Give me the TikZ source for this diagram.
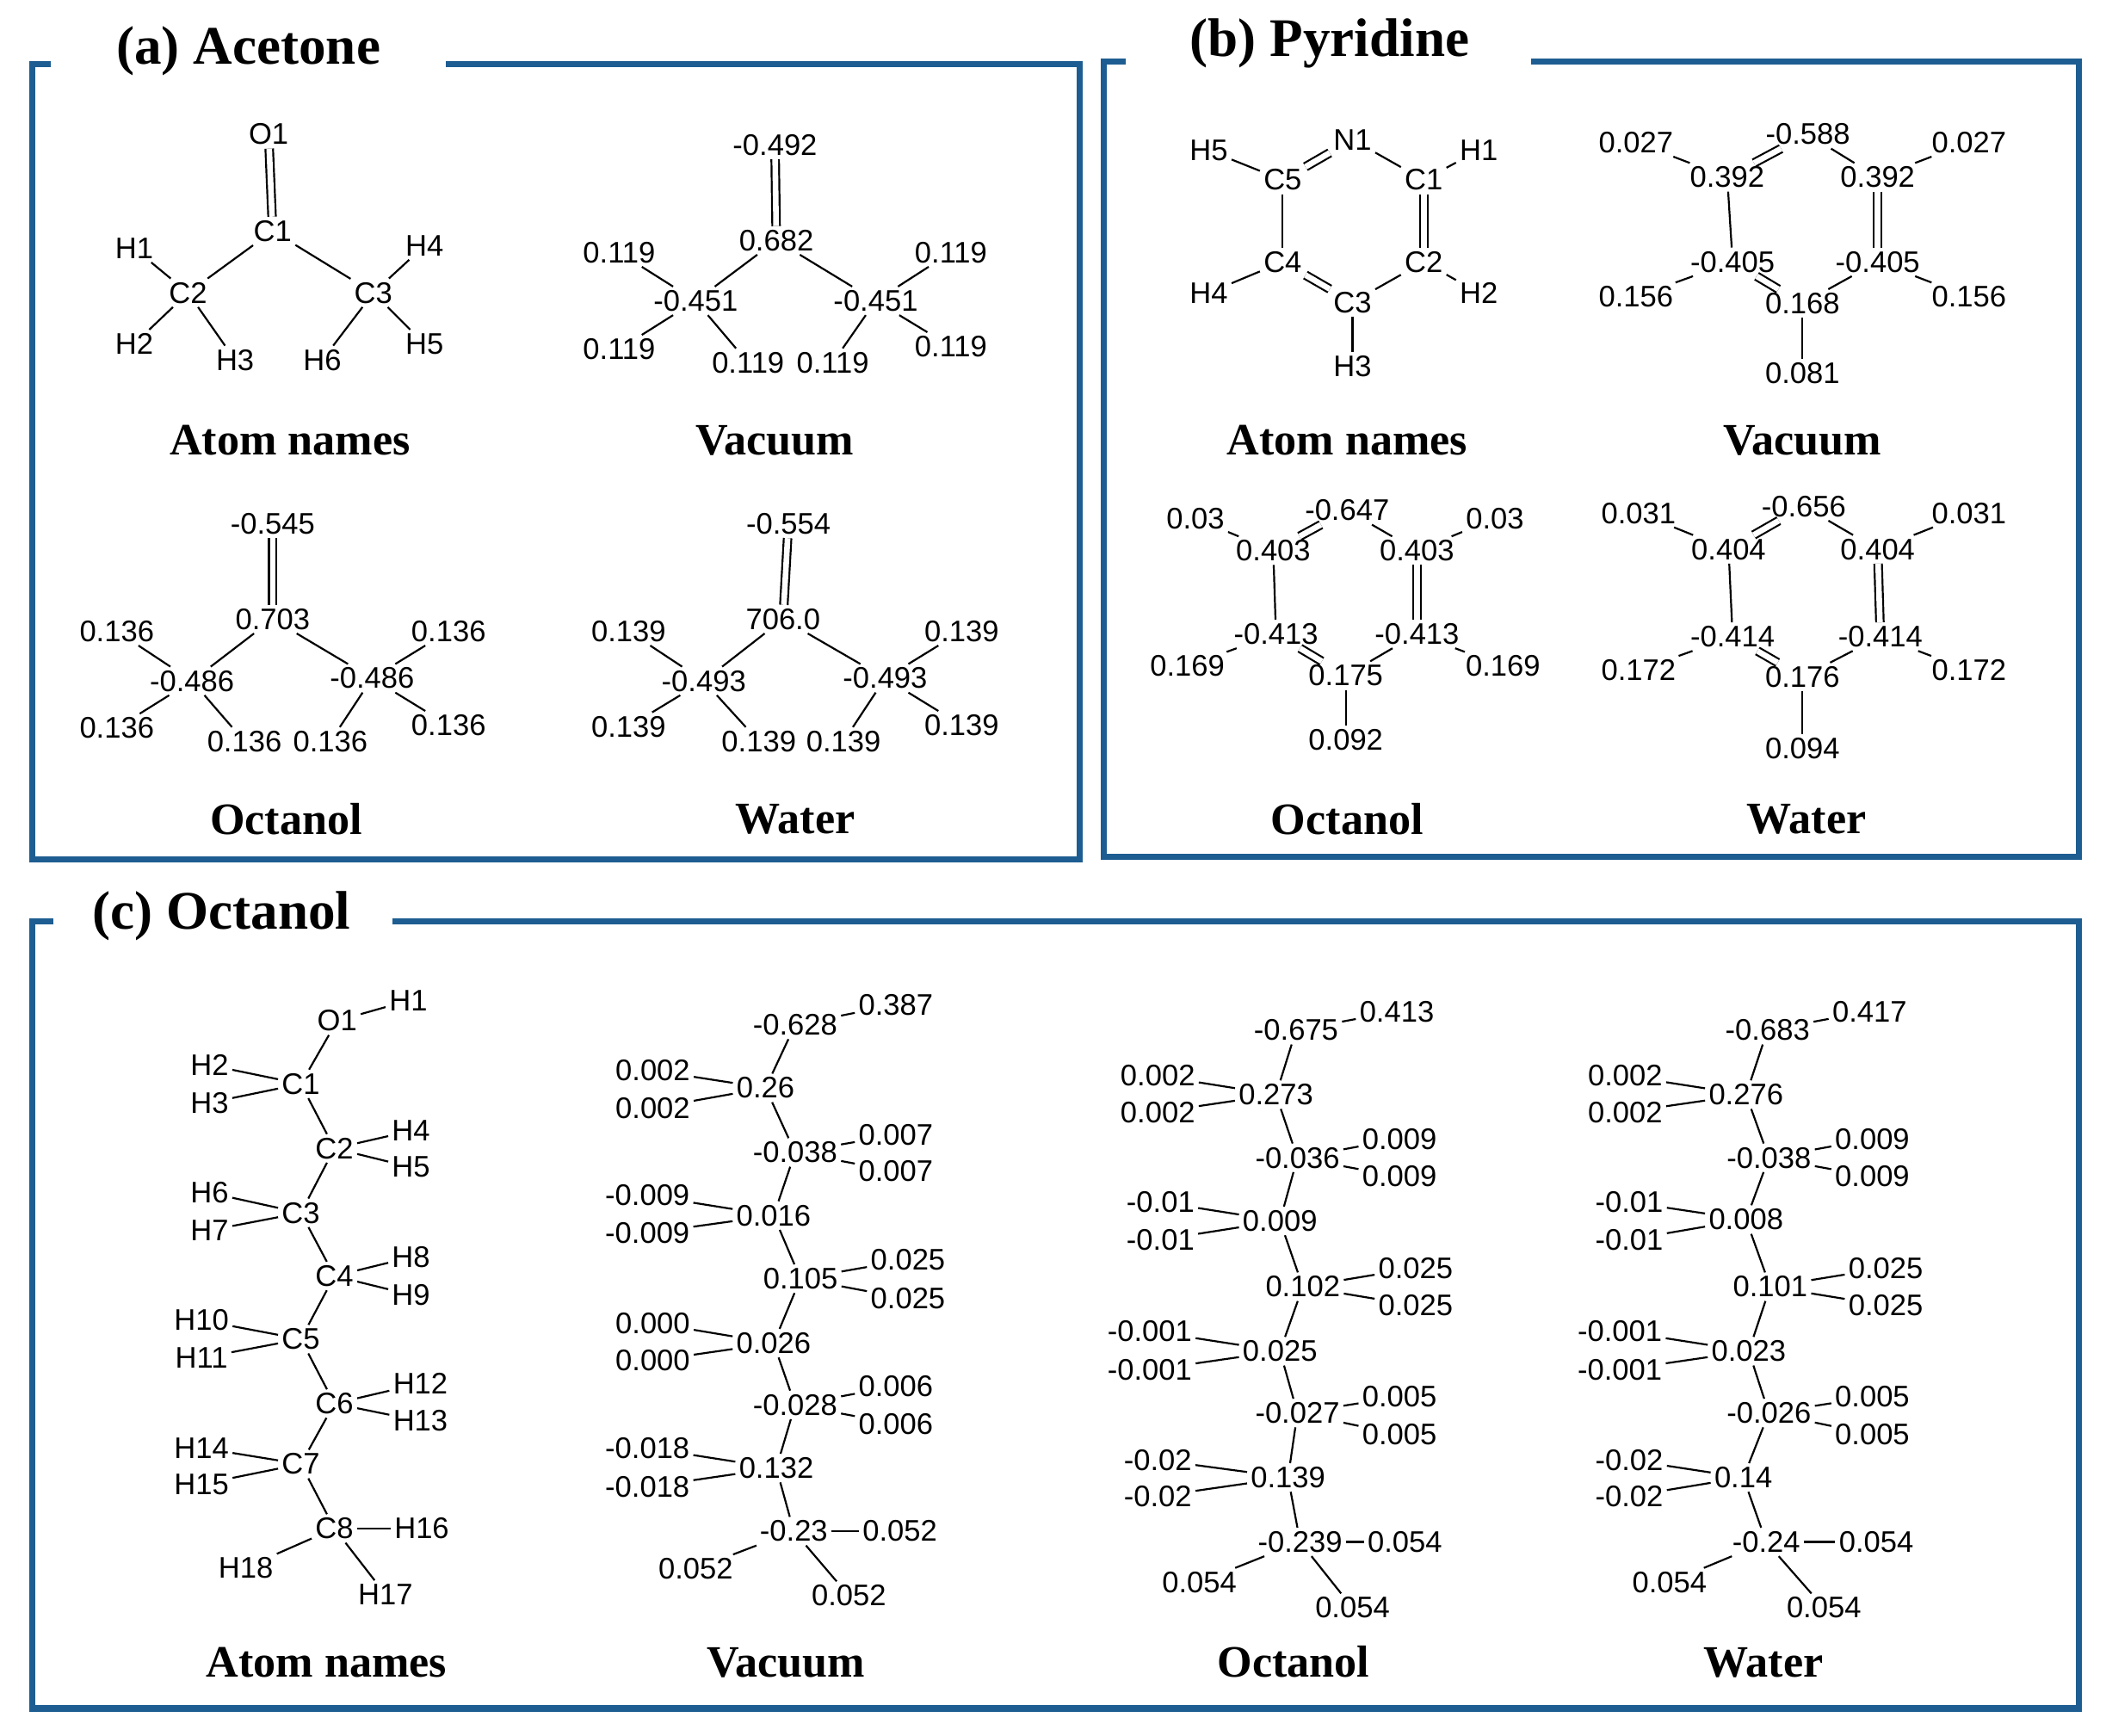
\documentclass[tikz,border=0pt]{standalone}
\usepackage{fontspec}
\setmainfont{Liberation Serif}
\newfontfamily\ar{Liberation Sans}
\definecolor{fr}{HTML}{1D5D91}
\tikzset{
 lab/.style={font=\ar\fontsize{6.3}{7}\selectfont,inner sep=0.6pt},
 bond/.style={line width=0.4pt,black},
 dbl/.style={bond,double,double distance=1.2pt},
 frame/.style={draw=fr,line width=1.3pt},
 ttl/.style={font=\bfseries\fontsize{11.5}{13}\selectfont},
 capt/.style={font=\bfseries\fontsize{9.5}{11}\selectfont}
}
\newcommand\Lb[3]{\node[lab] (#1) at (#2) {#3};}
\newcommand\acebonds[1]{\draw[dbl] (#1O)--(#1C1);
 \foreach \a/\b in {C1/C2,C1/C3,C2/H1,C2/H2,C2/H3,C3/H4,C3/H5,C3/H6}{\draw[bond] (#1\a)--(#1\b);}}
\newcommand\pyrbonds[1]{\draw[dbl] (#1N)--(#1C5); \draw[dbl] (#1C1)--(#1C2); \draw[dbl] (#1C3)--(#1C4);
 \foreach \a/\b in {N/C1,C2/C3,C4/C5,C1/H1,C2/H2,C3/H3,C4/H4,C5/H5}{\draw[bond] (#1\a)--(#1\b);}}
\newcommand\octbonds[1]{\foreach \a/\b in {O/H1,O/C1,C1/H2,C1/H3,C1/C2,C2/H4,C2/H5,C2/C3,C3/H6,C3/H7,C3/C4,C4/H8,C4/H9,C4/C5,C5/H10,C5/H11,C5/C6,C6/H12,C6/H13,C6/C7,C7/H14,C7/H15,C7/C8,C8/H16,C8/H17,C8/H18}{\draw[bond] (#1\a)--(#1\b);}}
\begin{document}
\begin{tikzpicture}[x=0.01cm,y=-0.01cm]
\useasboundingbox (0,0) rectangle (1568,1292);
% frames
\draw[frame] (38,48)--(24,48)--(24,640)--(804,640)--(804,48)--(332,48);
\draw[frame] (838,46)--(822,46)--(822,638)--(1548,638)--(1548,46)--(1140,46);
\draw[frame] (40,686)--(24,686)--(24,1272)--(1548,1272)--(1548,686)--(292,686);
\node[ttl] (ta) at (185,38) {(a) Acetone};
\node[ttl] (tb) at (990,32) {(b) Pyridine};
\node[ttl] (tc) at (165,682) {(c) Octanol};
% captions
\node[capt] (c1) at (216,328) {Atom names};
\node[capt] (c2) at (577,328) {Vacuum};
\node[capt] (c3) at (213,610) {Octanol};
\node[capt] (c4) at (592,610) {Water};
\node[capt] (c5) at (1003,328) {Atom names};
\node[capt] (c6) at (1342,328) {Vacuum};
\node[capt] (c7) at (1003,610) {Octanol};
\node[capt] (c8) at (1345,610) {Water};
\node[capt] (c9) at (243,1238) {Atom names};
\node[capt] (c10) at (585,1238) {Vacuum};
\node[capt] (c11) at (963,1237) {Octanol};
\node[capt] (c12) at (1313,1238) {Water};
% acetone names
\Lb{aaO}{200,100}{O1}\Lb{aaC1}{203,172}{C1}\Lb{aaC2}{140,218}{C2}\Lb{aaC3}{278,218}{C3}
\Lb{aaH1}{100,185}{H1}\Lb{aaH2}{100,256}{H2}\Lb{aaH3}{175,268}{H3}
\Lb{aaH4}{316,183}{H4}\Lb{aaH5}{316,256}{H5}\Lb{aaH6}{240,268}{H6}
\acebonds{aa}
% acetone vacuum
\Lb{avO}{577,108}{-0.492}\Lb{avC1}{578,179}{0.682}\Lb{avC2}{518,224}{-0.451}\Lb{avC3}{652,224}{-0.451}
\Lb{avH1}{461,188}{0.119}\Lb{avH2}{461,260}{0.119}\Lb{avH3}{557,270}{0.119}
\Lb{avH4}{708,188}{0.119}\Lb{avH5}{708,258}{0.119}\Lb{avH6}{620,270}{0.119}
\acebonds{av}
% acetone octanol
\Lb{aoO}{203,390}{-0.545}\Lb{aoC1}{203,461}{0.703}\Lb{aoC2}{143,507}{-0.486}\Lb{aoC3}{277,505}{-0.486}
\Lb{aoH1}{87,470}{0.136}\Lb{aoH2}{87,542}{0.136}\Lb{aoH3}{182,552}{0.136}
\Lb{aoH4}{334,470}{0.136}\Lb{aoH5}{334,540}{0.136}\Lb{aoH6}{246,552}{0.136}
\acebonds{ao}
% acetone water
\Lb{awO}{587,390}{-0.554}\Lb{awC1}{583,461}{706.0}\Lb{awC2}{524,507}{-0.493}\Lb{awC3}{659,505}{-0.493}
\Lb{awH1}{468,470}{0.139}\Lb{awH2}{468,541}{0.139}\Lb{awH3}{565,552}{0.139}
\Lb{awH4}{716,470}{0.139}\Lb{awH5}{716,540}{0.139}\Lb{awH6}{628,552}{0.139}
\acebonds{aw}
% pyridine names
\Lb{paN}{1007,104}{N1}\Lb{paC1}{1060,134}{C1}\Lb{paC2}{1060,195}{C2}\Lb{paC3}{1007,225}{C3}
\Lb{paC4}{955,195}{C4}\Lb{paC5}{955,134}{C5}\Lb{paH1}{1101,112}{H1}\Lb{paH2}{1101,218}{H2}
\Lb{paH3}{1007,273}{H3}\Lb{paH4}{900,218}{H4}\Lb{paH5}{900,112}{H5}
\pyrbonds{pa}
% pyridine vacuum
\Lb{pvN}{1346,100}{-0.588}\Lb{pvC1}{1398,132}{0.392}\Lb{pvC5}{1286,132}{0.392}
\Lb{pvC2}{1398,195}{-0.405}\Lb{pvC4}{1290,195}{-0.405}\Lb{pvC3}{1342,226}{0.168}
\Lb{pvH1}{1466,106}{0.027}\Lb{pvH5}{1218,106}{0.027}\Lb{pvH2}{1466,221}{0.156}
\Lb{pvH4}{1218,221}{0.156}\Lb{pvH3}{1342,278}{0.081}
\pyrbonds{pv}
% pyridine octanol
\Lb{poN}{1003,380}{-0.647}\Lb{poC5}{948,410}{0.403}\Lb{poC1}{1055,410}{0.403}
\Lb{poC4}{950,472}{-0.413}\Lb{poC2}{1055,472}{-0.413}\Lb{poC3}{1002,503}{0.175}
\Lb{poH5}{890,386}{0.03}\Lb{poH1}{1113,386}{0.03}\Lb{poH4}{884,496}{0.169}
\Lb{poH2}{1119,496}{0.169}\Lb{poH3}{1002,551}{0.092}
\pyrbonds{po}
% pyridine water
\Lb{pwN}{1343,377}{-0.656}\Lb{pwC5}{1287,409}{0.404}\Lb{pwC1}{1398,409}{0.404}
\Lb{pwC4}{1290,474}{-0.414}\Lb{pwC2}{1400,474}{-0.414}\Lb{pwC3}{1342,504}{0.176}
\Lb{pwH5}{1220,382}{0.031}\Lb{pwH1}{1466,382}{0.031}\Lb{pwH4}{1220,499}{0.172}
\Lb{pwH2}{1466,499}{0.172}\Lb{pwH3}{1342,557}{0.094}
\pyrbonds{pw}
% octanol names
\Lb{oaO}{251,760}{O1}\Lb{oaH1}{304,745}{H1}\Lb{oaC1}{224,807}{C1}\Lb{oaH2}{156,793}{H2}\Lb{oaH3}{156,821}{H3}
\Lb{oaC2}{249,855}{C2}\Lb{oaH4}{306,842}{H4}\Lb{oaH5}{306,869}{H5}
\Lb{oaC3}{224,903}{C3}\Lb{oaH6}{156,888}{H6}\Lb{oaH7}{156,916}{H7}
\Lb{oaC4}{249,950}{C4}\Lb{oaH8}{306,936}{H8}\Lb{oaH9}{306,964}{H9}
\Lb{oaC5}{224,997}{C5}\Lb{oaH10}{150,983}{H10}\Lb{oaH11}{150,1011}{H11}
\Lb{oaC6}{249,1045}{C6}\Lb{oaH12}{313,1030}{H12}\Lb{oaH13}{313,1058}{H13}
\Lb{oaC7}{224,1090}{C7}\Lb{oaH14}{150,1078}{H14}\Lb{oaH15}{150,1105}{H15}
\Lb{oaC8}{249,1138}{C8}\Lb{oaH16}{314,1138}{H16}\Lb{oaH18}{183,1167}{H18}\Lb{oaH17}{287,1187}{H17}
\octbonds{oa}
% octanol vacuum
\Lb{ovO}{592,763}{-0.628}\Lb{ovH1}{667,748}{0.387}\Lb{ovC1}{570,810}{0.26}\Lb{ovH2}{486,797}{0.002}\Lb{ovH3}{486,825}{0.002}
\Lb{ovC2}{592,858}{-0.038}\Lb{ovH4}{667,845}{0.007}\Lb{ovH5}{667,872}{0.007}
\Lb{ovC3}{576,905}{0.016}\Lb{ovH6}{482,890}{-0.009}\Lb{ovH7}{482,918}{-0.009}
\Lb{ovC4}{596,952}{0.105}\Lb{ovH8}{676,938}{0.025}\Lb{ovH9}{676,967}{0.025}
\Lb{ovC5}{576,1000}{0.026}\Lb{ovH10}{486,985}{0.000}\Lb{ovH11}{486,1013}{0.000}
\Lb{ovC6}{592,1046}{-0.028}\Lb{ovH12}{667,1032}{0.006}\Lb{ovH13}{667,1060}{0.006}
\Lb{ovC7}{578,1093}{0.132}\Lb{ovH14}{482,1078}{-0.018}\Lb{ovH15}{482,1107}{-0.018}
\Lb{ovC8}{591,1140}{-0.23}\Lb{ovH16}{670,1140}{0.052}\Lb{ovH18}{518,1168}{0.052}\Lb{ovH17}{632,1188}{0.052}
\octbonds{ov}
% octanol octanol
\Lb{ooO}{965,767}{-0.675}\Lb{ooH1}{1040,753}{0.413}\Lb{ooC1}{950,815}{0.273}\Lb{ooH2}{862,801}{0.002}\Lb{ooH3}{862,828}{0.002}
\Lb{ooC2}{966,862}{-0.036}\Lb{ooH4}{1042,848}{0.009}\Lb{ooH5}{1042,876}{0.009}
\Lb{ooC3}{953,909}{0.009}\Lb{ooH6}{864,895}{-0.01}\Lb{ooH7}{864,923}{-0.01}
\Lb{ooC4}{970,958}{0.102}\Lb{ooH8}{1054,944}{0.025}\Lb{ooH9}{1054,972}{0.025}
\Lb{ooC5}{953,1006}{0.025}\Lb{ooH10}{856,991}{-0.001}\Lb{ooH11}{856,1020}{-0.001}
\Lb{ooC6}{966,1052}{-0.027}\Lb{ooH12}{1042,1040}{0.005}\Lb{ooH13}{1042,1068}{0.005}
\Lb{ooC7}{959,1100}{0.139}\Lb{ooH14}{862,1087}{-0.02}\Lb{ooH15}{862,1114}{-0.02}
\Lb{ooC8}{968,1148}{-0.239}\Lb{ooH16}{1046,1148}{0.054}\Lb{ooH18}{893,1178}{0.054}\Lb{ooH17}{1007,1197}{0.054}
\octbonds{oo}
% octanol water
\Lb{owO}{1316,767}{-0.683}\Lb{owH1}{1392,753}{0.417}\Lb{owC1}{1300,815}{0.276}\Lb{owH2}{1210,801}{0.002}\Lb{owH3}{1210,828}{0.002}
\Lb{owC2}{1317,862}{-0.038}\Lb{owH4}{1394,848}{0.009}\Lb{owH5}{1394,876}{0.009}
\Lb{owC3}{1300,908}{0.008}\Lb{owH6}{1213,895}{-0.01}\Lb{owH7}{1213,923}{-0.01}
\Lb{owC4}{1318,958}{0.101}\Lb{owH8}{1404,944}{0.025}\Lb{owH9}{1404,972}{0.025}
\Lb{owC5}{1302,1006}{0.023}\Lb{owH10}{1206,991}{-0.001}\Lb{owH11}{1206,1020}{-0.001}
\Lb{owC6}{1317,1052}{-0.026}\Lb{owH12}{1394,1040}{0.005}\Lb{owH13}{1394,1068}{0.005}
\Lb{owC7}{1298,1100}{0.14}\Lb{owH14}{1213,1087}{-0.02}\Lb{owH15}{1213,1114}{-0.02}
\Lb{owC8}{1315,1148}{-0.24}\Lb{owH16}{1397,1148}{0.054}\Lb{owH18}{1243,1178}{0.054}\Lb{owH17}{1358,1197}{0.054}
\octbonds{ow}
\end{tikzpicture}
\end{document}
